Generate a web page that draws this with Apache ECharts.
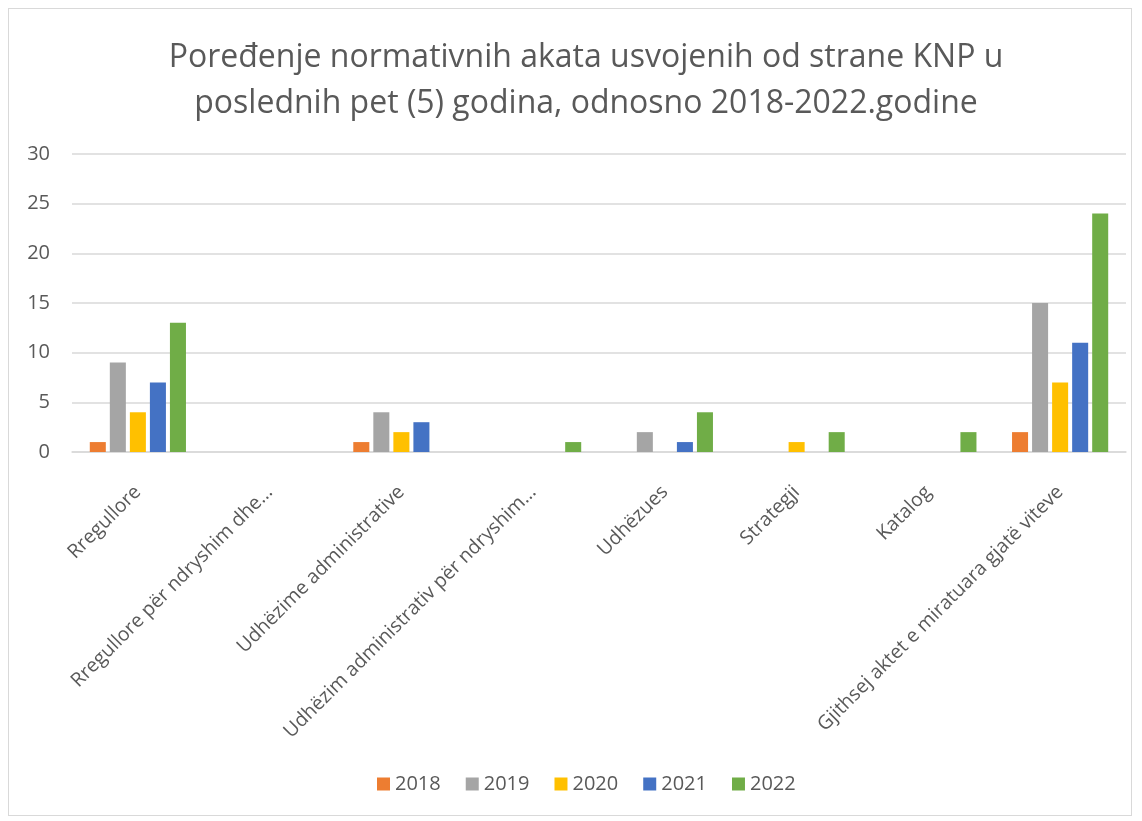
<!DOCTYPE html>
<html>
<head>
<meta charset="utf-8">
<script src="https://cdn.jsdelivr.net/npm/echarts@6/dist/echarts.min.js"></script>
<style>
html,body{margin:0;padding:0;background:#fff;}
#frame{position:absolute;left:8px;top:8px;width:1124px;height:808px;border:1px solid #d9d9d9;box-sizing:border-box;}
#chart{position:absolute;left:0;top:0;width:1142px;height:821px;}
</style>
</head>
<body>
<div id="frame"></div>
<div id="chart"></div>
<script>
const titleText = 'Poređenje normativnih akata usvojenih od strane KNP u\nposlednih pet (5) godina, odnosno 2018-2022.godine';
const categories = ['Rregullore', 'Rregullore për ndryshim dhe…', 'Udhëzime administrative', 'Udhëzim administrativ për ndryshim…', 'Udhëzues', 'Strategji', 'Katalog', 'Gjithsej aktet e miratuara gjatë viteve'];
const seriesNames = ['2018', '2019', '2020', '2021', '2022'];
const v2018 = [1, null, 1, null, null, null, null, 2];
const v2019 = [9, null, 4, null, 2, null, null, 15];
const v2020 = [4, null, 2, null, null, 1, null, 7];
const v2021 = [7, null, 3, null, 1, null, null, 11];
const v2022 = [13, null, null, 1, 4, 2, 2, 24];
const colors = ['#ED7D31', '#A5A5A5', '#FFC000', '#4472C4', '#70AD47'];
const values = [v2018, v2019, v2020, v2021, v2022];

const font = "'Open Sans', 'Noto Sans', sans-serif";
const chart = echarts.init(document.getElementById('chart'));
chart.setOption({
  animation: false,
  title: {
    text: titleText,
    left: 581,
    top: 30,
    padding: 5,
    textAlign: 'center',
    textStyle: { fontFamily: font, fontSize: 32, fontWeight: 'normal', color: '#595959', lineHeight: 46 }
  },
  legend: {
    bottom: 22,
    left: 372,
    itemWidth: 13, itemHeight: 13, itemGap: 25,
    icon: 'rect',
    textStyle: { fontFamily: font, fontSize: 20, color: '#595959' },
    data: seriesNames
  },
  grid: { left: 72, right: 16, top: 154, bottom: 369, containLabel: false },
  xAxis: {
    type: 'category',
    data: categories,
    axisLine: { lineStyle: { color: '#d9d9d9', width: 1.5 } },
    axisTick: { show: false },
    axisLabel: { rotate: 45, interval: 0, fontFamily: font, fontSize: 19.5, color: '#595959', margin: 37 }
  },
  yAxis: {
    type: 'value',
    min: 0, max: 30, interval: 5,
    axisLine: { show: false },
    axisTick: { show: false },
    splitLine: { lineStyle: { color: '#d9d9d9', width: 1.5 } },
    axisLabel: { fontFamily: font, fontSize: 20, color: '#595959', margin: 22 }
  },
  color: colors,
  series: seriesNames.map((n, i) => ({
    name: n,
    type: 'bar',
    data: values[i],
    barGap: '25%',
    barCategoryGap: '27%',
    itemStyle: { color: colors[i] }
  }))
});
</script>
</body>
</html>
